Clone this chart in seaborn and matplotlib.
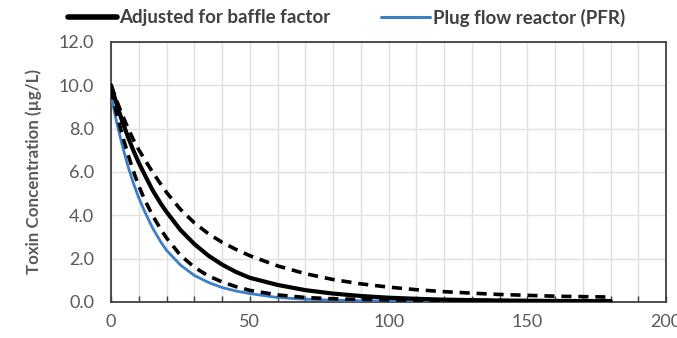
import numpy as np
import pandas as pd
import matplotlib
matplotlib.use("Agg")
import matplotlib.pyplot as plt
from matplotlib.ticker import MultipleLocator, FormatStrFormatter
import seaborn as sns

# time (x) and concentrations
time = [0, 2, 4, 6, 8, 10, 12, 15, 18, 20, 25, 30, 35, 40, 45, 50,
        60, 70, 80, 90, 100, 110, 120, 130, 140, 150, 160, 170, 180]
adjusted = [10.0, 9.15, 8.35, 7.65, 7.0, 6.42, 5.9, 5.15, 4.52, 4.15, 3.32, 2.67, 2.14, 1.72, 1.38, 1.11,
            0.78, 0.54, 0.38, 0.27, 0.19, 0.14, 0.1, 0.08, 0.06, 0.05, 0.04, 0.03, 0.03]
upper = [10.0, 9.3, 8.65, 8.05, 7.5, 7.02, 6.6, 5.98, 5.42, 5.05, 4.27, 3.65, 3.15, 2.75, 2.42, 2.13,
         1.66, 1.3, 1.03, 0.83, 0.68, 0.56, 0.47, 0.4, 0.34, 0.3, 0.26, 0.24, 0.22]
lower = [9.8, 8.7, 7.72, 6.85, 6.05, 5.35, 4.75, 3.98, 3.33, 2.95, 2.15, 1.6, 1.2, 0.92, 0.7, 0.53,
         0.32, 0.2, 0.14, 0.11, 0.09, 0.08, 0.07, 0.06, 0.06, 0.05, 0.05, 0.05, 0.05]
pfr = [9.55, 8.3, 7.25, 6.3, 5.5, 4.8, 4.2, 3.4, 2.75, 2.38, 1.7, 1.22, 0.9, 0.66, 0.5, 0.38,
       0.2, 0.12, 0.08, 0.05, 0.04, 0.03, 0.03, 0.02, 0.02, 0.02, 0.02, 0.02, 0.02]

df = pd.DataFrame({"time": time, "adjusted": adjusted, "upper": upper,
                   "lower": lower, "pfr": pfr})

sns.set_theme(style="white")
plt.rcParams["font.family"] = ["Lato", "DejaVu Sans"]

fig = plt.figure(figsize=(6.77, 3.38), dpi=100)
ax = fig.add_axes([0.164, 0.107, 0.82, 0.769])

blue = "#3d7fc6"
sns.lineplot(data=df, x="time", y="pfr", ax=ax, color=blue, lw=2.0,
             label="Plug flow reactor (PFR)", zorder=3)
sns.lineplot(data=df, x="time", y="adjusted", ax=ax, color="black", lw=3.0,
             label="Adjusted for baffle factor", zorder=4)
sns.lineplot(data=df, x="time", y="upper", ax=ax, color="black", lw=2.6,
             zorder=5).lines[-1].set_dashes([2.8, 1.9])
sns.lineplot(data=df, x="time", y="lower", ax=ax, color="black", lw=2.6,
             zorder=5).lines[-1].set_dashes([2.8, 1.9])

ax.set_xlim(0, 200)
ax.set_ylim(0, 12)
ax.xaxis.set_major_locator(MultipleLocator(50))
ax.xaxis.set_minor_locator(MultipleLocator(10))
ax.yaxis.set_major_locator(MultipleLocator(2))
ax.yaxis.set_major_formatter(FormatStrFormatter("%.1f"))

ax.grid(True, which="both", axis="x", color="#e0e0e0", lw=1.0)
ax.grid(True, which="major", axis="y", color="#e0e0e0", lw=1.0)
ax.set_axisbelow(True)

for s in ax.spines.values():
    s.set_color("#404040")
    s.set_linewidth(1.3)

ax.tick_params(axis="x", which="both", direction="in", length=4, width=1.0,
               color="#404040", bottom=True, pad=9)
ax.tick_params(axis="y", left=False, pad=6)
ax.tick_params(labelsize=13, labelcolor="#595959")

ax.set_xlabel("")
ax.set_ylabel("Toxin Concentration (µg/L)", fontsize=12.2, fontweight="bold",
              color="#595959", labelpad=12)

handles, labels = ax.get_legend_handles_labels()
ax.get_legend().remove()
order = [1, 0]
leg = fig.legend([handles[i] for i in order], [labels[i] for i in order],
                 loc="upper center", bbox_to_anchor=(0.512, 1.025), ncol=2,
                 frameon=False, handlelength=2.6, handletextpad=0.15,
                 columnspacing=2.7, prop={"size": 13.5, "weight": "bold"})
for t in leg.get_texts():
    t.set_color("#404040")
leg.legend_handles[0].set_linewidth(4.0)
leg.legend_handles[1].set_linewidth(2.2)

fig.savefig("out.png", dpi=100)
